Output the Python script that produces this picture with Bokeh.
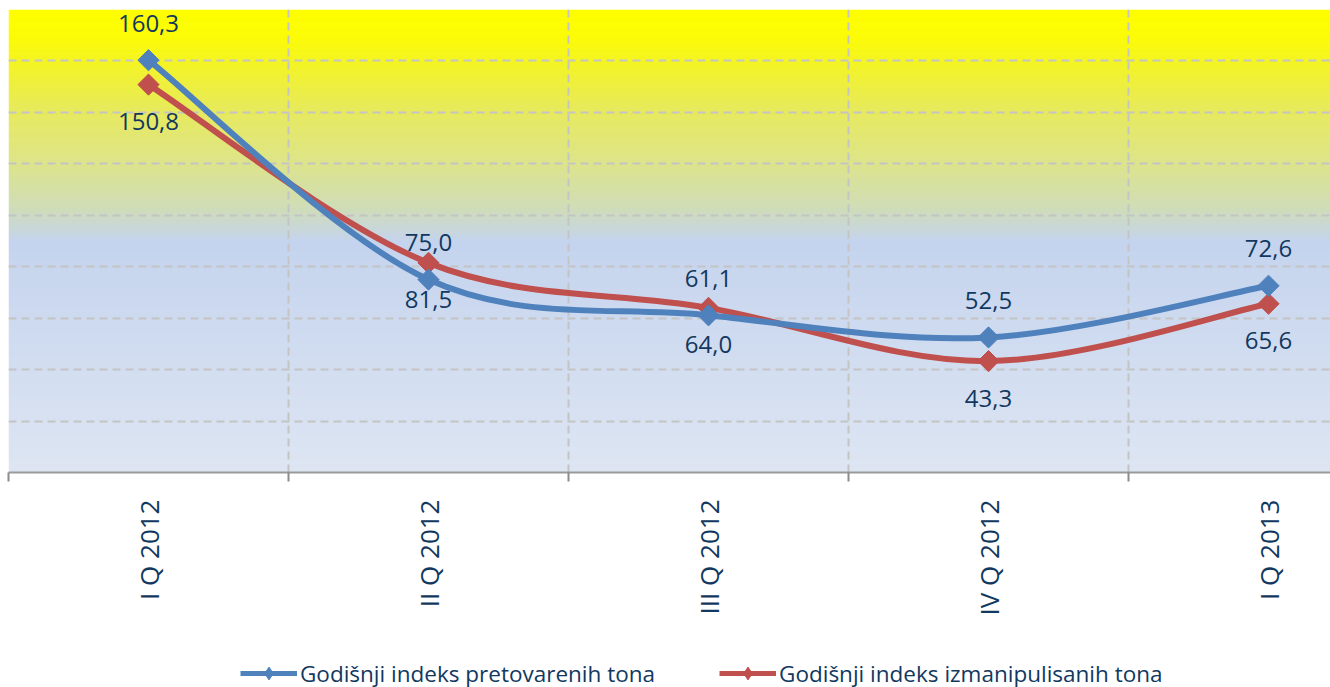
import numpy as np
from bokeh.plotting import figure
from bokeh.layouts import column
from bokeh.models import Range1d, FixedTicker, Legend, LegendItem, ColumnDataSource
from bokeh.core.properties import value
from bokeh.embed import file_html
from bokeh.resources import INLINE

# ---- data ----
categories = ["I Q 2012", "II Q 2012", "III Q 2012", "IV Q 2012", "I Q 2013"]
pretovarenih = [160.3, 75.0, 61.1, 52.5, 72.6]     # blue series
izmanipulisanih = [150.8, 81.5, 64.0, 43.3, 65.6]  # red series
series_names = ["Godišnji indeks pretovarenih tona", "Godišnji indeks izmanipulisanih tona"]

BLUE = "#4F81BD"
RED = "#C0504D"
TXT = "#12385F"
FONT = "Open Sans"

W = 1330
H1, H2 = 620, 67
FW = W - 8  # frame width
xs = np.arange(len(categories), dtype=float)

p = figure(width=W, height=H1, output_backend="svg", toolbar_location=None,
           x_range=Range1d(-0.5, -0.5 + FW / 280.0), y_range=Range1d(0, 180),
           y_axis_location=None, min_border_left=8, min_border_right=0,
           min_border_top=9, min_border_bottom=H1 - 472, outline_line_color=None,
           background_fill_color="white", border_fill_color="white")

# gradient plot-area fill
stops_t = [0.0, 0.06, 0.11, 0.22, 0.31, 0.43, 0.50, 1.0]
stops_c = [(255, 255, 0), (252, 252, 8), (245, 245, 35), (231, 234, 95),
           (224, 230, 130), (208, 221, 185), (197, 212, 238), (222, 230, 243)]
n = 463
t = np.linspace(1.0, 0.0, n)  # row 0 is bottom
img = np.zeros((n, 1), dtype=np.uint32)
view = img.view(dtype=np.uint8).reshape((n, 1, 4))
for k in range(3):
    view[:, 0, k] = np.interp(t, stops_t, [c[k] for c in stops_c]).astype(np.uint8)
view[:, 0, 3] = 255
p.image_rgba(image=[img], x=-0.5, y=0, dw=FW / 280.0, dh=180, level="image")

# grids
p.ygrid.ticker = FixedTicker(ticks=list(range(0, 181, 20)))
p.xgrid.ticker = FixedTicker(ticks=[i - 0.5 for i in range(len(categories) + 1)])
for g in (p.xgrid[0], p.ygrid[0]):
    g.grid_line_color = "#C4C4C4"
    g.grid_line_width = 2
    g.grid_line_dash = "8 5"

# x axis
ax = p.xaxis[0]
ax.ticker = FixedTicker(ticks=list(xs), minor_ticks=[i - 0.5 for i in range(len(categories) + 1)])
ax.major_label_overrides = {i: c for i, c in enumerate(categories)}
ax.major_label_orientation = np.pi / 2
ax.major_label_text_align = "right"
ax.major_label_text_baseline = "middle"
ax.major_tick_line_color = None
ax.major_tick_out = 0
ax.major_tick_in = 0
ax.minor_tick_line_color = "#8C8C8C"
ax.minor_tick_line_width = 2
ax.minor_tick_out = 9
ax.minor_tick_in = 0
ax.axis_line_color = "#9A9A9A"
ax.axis_line_width = 2
ax.major_label_standoff = 18
ax.major_label_text_font = FONT
ax.major_label_text_font_size = "26px"
ax.major_label_text_color = TXT


def smooth(x, y):
    x = np.asarray(x, float)
    y = np.asarray(y, float)
    xp = np.concatenate([[x[0]], x, [x[-1]]])
    yp = np.concatenate([[y[0]], y, [y[-1]]])
    d = dict(x0=[], y0=[], x1=[], y1=[], cx0=[], cy0=[], cx1=[], cy1=[])
    for i in range(len(x) - 1):
        j = i + 1
        d["x0"].append(xp[j]); d["y0"].append(yp[j])
        d["x1"].append(xp[j + 1]); d["y1"].append(yp[j + 1])
        d["cx0"].append(xp[j] + (xp[j + 1] - xp[j - 1]) / 6)
        d["cy0"].append(yp[j] + (yp[j + 1] - yp[j - 1]) / 6)
        d["cx1"].append(xp[j + 1] - (xp[j + 2] - xp[j]) / 6)
        d["cy1"].append(yp[j + 1] - (yp[j + 2] - yp[j]) / 6)
    return ColumnDataSource(d)


for vals, col in ((izmanipulisanih, RED), (pretovarenih, BLUE)):
    p.bezier(x0="x0", y0="y0", x1="x1", y1="y1", cx0="cx0", cy0="cy0", cx1="cx1", cy1="cy1",
             source=smooth(xs, vals), line_color=col, line_width=6)
    p.scatter(list(xs), vals, marker="square", angle=np.pi / 4, size=15,
              fill_color=col, line_color=col)

# data labels: blue values above their points, red values below theirs
fmt = lambda v: f"{v:.1f}".replace(".", ",")
p.text(x=list(xs), y=pretovarenih, text=[fmt(v) for v in pretovarenih], y_offset=-37,
       text_align="center", text_baseline="middle", text_font=value(FONT),
       text_font_size="24px", text_color=TXT)
p.text(x=list(xs), y=izmanipulisanih, text=[fmt(v) for v in izmanipulisanih], y_offset=37,
       text_align="center", text_baseline="middle", text_font=value(FONT),
       text_font_size="24px", text_color=TXT)

# legend strip: own small figure; its series lie outside its 0..1 view, so only the legend shows
p2 = figure(width=W, height=H2, output_backend="svg", toolbar_location=None,
            x_axis_location=None, y_axis_location=None, min_border=0,
            outline_line_color=None, x_range=Range1d(0, 1), y_range=Range1d(0, 1))
p2.grid.visible = False
items = []
for vals, col, name in ((pretovarenih, BLUE, series_names[0]), (izmanipulisanih, RED, series_names[1])):
    lr = p2.line(list(xs), vals, line_color=col, line_width=5)
    mr = p2.scatter(list(xs), vals, marker="diamond", size=15,
                    fill_color=col, line_color=col)
    items.append(LegendItem(label=name, renderers=[lr, mr]))
legend = Legend(items=items, orientation="horizontal", location=(232, -2),
                glyph_width=57, glyph_height=32, label_height=32, label_standoff=3,
                spacing=64, padding=0, margin=0, border_line_color=None,
                background_fill_alpha=0, label_text_font=FONT,
                label_text_font_size="22.5px", label_text_color=TXT)
p2.add_layout(legend, "center")

open("out.html", "w").write(file_html(column(p, p2, spacing=0), INLINE))
